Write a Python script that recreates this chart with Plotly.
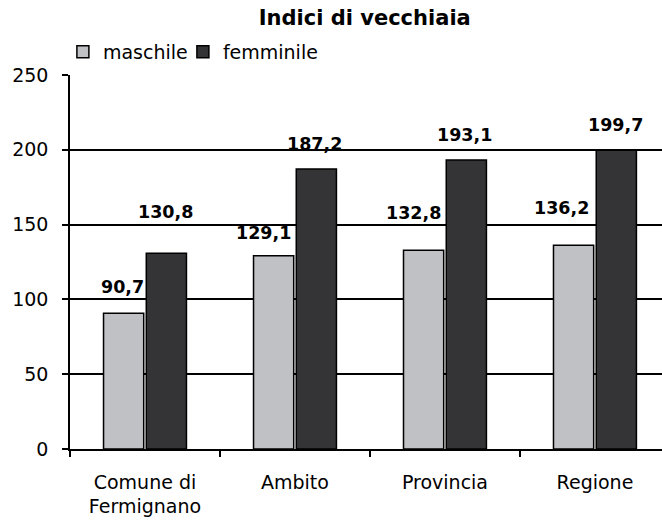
import plotly.graph_objects as go

categories = ["Comune di<br>Fermignano", "Ambito", "Provincia", "Regione"]
maschile = [90.7, 129.1, 132.8, 136.2]
femminile = [130.8, 187.2, 193.1, 199.7]
series_names = ["maschile", "femminile"]
y_ticks = [0, 50, 100, 150, 200, 250]

colors = ["#C0C1C5", "#343436"]
FONT = "DejaVu Sans, Verdana, sans-serif"

# label placement nudges in px (style only): vertical lift and horizontal shift
label_lift = [[14, 11, 25, 25], [29, 13, 13, 13]]
label_dx = [[-22, -31, -31, -33], [21, 20, 20, 21]]
legend_entry_w = [75, None]

fig = go.Figure()
for name, vals, col, lw in zip(series_names, [maschile, femminile], colors, legend_entry_w):
    fig.add_trace(go.Bar(
        name=name, x=categories, y=vals,
        marker=dict(color=col, line=dict(color="#000000", width=1.5)),
        legendwidth=lw,
    ))

annotations = []
for s, vals in enumerate([maschile, femminile]):
    for i, v in enumerate(vals):
        annotations.append(dict(
            x=categories[i], y=v, xref="x", yref="y",
            text=f"<b>{v:.1f}</b>".replace(".", ","),
            showarrow=False, yanchor="bottom",
            xshift=label_dx[s][i],
            yshift=label_lift[s][i],
            font=dict(family=FONT, size=17.5, color="#000000"),
        ))

fig.update_layout(
    width=662, height=525,
    margin=dict(l=70, r=0, t=75, b=76),
    paper_bgcolor="white", plot_bgcolor="white",
    barmode="group", bargap=0.43, bargroupgap=0.06,
    font=dict(family=FONT, size=19, color="#000000"),
    title=dict(text="<b>Indici di vecchiaia</b>", x=0.551, xanchor="center",
               y=0.966, yanchor="middle",
               font=dict(family=FONT, size=21, color="#000000")),
    showlegend=True,
    legend=dict(orientation="h", x=-0.012, xanchor="left", y=1.062, yanchor="middle",
                font=dict(family=FONT, size=19, color="#000000"),
                bgcolor="rgba(0,0,0,0)", itemwidth=30, traceorder="normal"),
    annotations=annotations,
)
fig.update_xaxes(
    type="category", range=[-0.5, 3.447],
    showline=True, linecolor="#000000", linewidth=1.5,
    ticks="outside", tickson="boundaries", ticklen=6, tickcolor="#000000",
    tickwidth=1.5, showgrid=False, ticklabelstandoff=15,
    tickfont=dict(family=FONT, size=19, color="#000000"),
)
fig.update_yaxes(
    range=[0, 250], tickvals=y_ticks,
    showline=True, linecolor="#000000", linewidth=1.5,
    ticks="outside", ticklen=6, tickcolor="#000000", tickwidth=1.5,
    showgrid=True, gridcolor="#000000", gridwidth=1.5,
    zeroline=False, ticklabelstandoff=10,
    tickfont=dict(family=FONT, size=19, color="#000000"),
)

fig.write_html(
    "out.html",
    config={"displayModeBar": False},
    post_script="document.body.style.margin='0';document.body.style.overflow='hidden';",
)
